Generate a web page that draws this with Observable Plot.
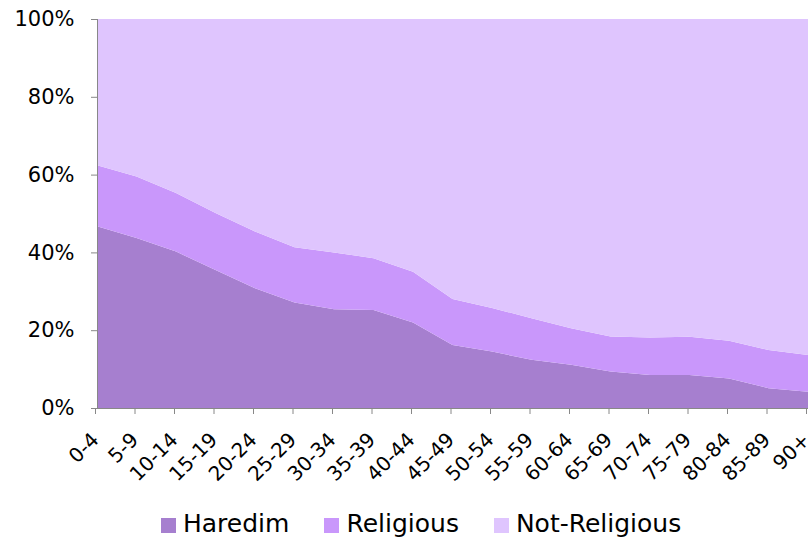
<!DOCTYPE html>
<html>
<head>
<meta charset="utf-8">
<script src="https://cdn.jsdelivr.net/npm/d3@7"></script>
<script src="https://cdn.jsdelivr.net/npm/@observablehq/plot@0.6"></script>
<style>
  html, body { margin: 0; padding: 0; background: #fff; }
  body { width: 811px; height: 541px; position: relative; overflow: hidden; font-family: "DejaVu Sans", Verdana, sans-serif; }
  #chart { position: absolute; left: 0; top: 0; width: 811px; }
  #chart svg { display: block; }
  #legend { position: absolute; left: 161px; top: 509px; display: flex; align-items: center; font-size: 25px; color: #000; white-space: nowrap; }
  #legend .item { display: flex; align-items: center; margin-right: 35px; }
  #legend .sw { width: 15px; height: 15px; margin-right: 7px; margin-top: 4px; }
  #chart [aria-label="y-axis tick"], #chart [aria-label="x-axis tick"] { stroke: #888; }
  #chart [aria-label="y-axis tick label"] { font-size: 21px; fill: #000; }
  #chart [aria-label="x-axis tick label"] { font-size: 20px; fill: #000; }
</style>
</head>
<body>
<div id="chart"></div>
<div id="legend"></div>
<script>
const ages = ["0-4","5-9","10-14","15-19","20-24","25-29","30-34","35-39","40-44","45-49","50-54","55-59","60-64","65-69","70-74","75-79","80-84","85-89","90+"];
const groups = ["Haredim", "Religious", "Not-Religious"];
const colors = ["#a67fcf", "#c997fb", "#dfc5fe"];
const haredim      = [46.7, 43.7, 40.2, 35.5, 30.8, 27.1, 25.4, 25.2, 22.0, 16.2, 14.5, 12.4, 11.1, 9.4, 8.5, 8.5, 7.6, 5.1, 4.2];
const religious    = [15.7, 15.8, 15.1, 14.6, 14.6, 14.2, 14.6, 13.3, 13.0, 11.8, 11.2, 10.7, 9.4, 9.0, 9.6, 9.8, 9.7, 9.8, 9.4];
const notReligious = [37.6, 40.5, 44.7, 49.9, 54.6, 58.7, 60.0, 61.5, 65.0, 72.0, 74.3, 76.9, 79.5, 81.6, 81.9, 81.7, 82.7, 85.1, 86.4];
const yTicks = [0, 20, 40, 60, 80, 100];

const series = {"Haredim": haredim, "Religious": religious, "Not-Religious": notReligious};
const rows = ages.flatMap((age, i) => groups.map(g => ({age, group: g, value: series[g][i]})));

const chart = Plot.plot({
  width: 811,
  height: 480,
  marginLeft: 97,
  marginRight: 3,
  marginTop: 19,
  marginBottom: 72,
  inset: 0,
  style: {fontFamily: "DejaVu Sans, Verdana, sans-serif", fontSize: "20px", color: "#000", background: "#fff", overflow: "visible"},
  x: {type: "point", domain: ages, padding: 0, round: false},
  y: {domain: [0, 100]},
  color: {domain: groups, range: colors},
  marks: [
    Plot.areaY(rows, {x: "age", y: "value", fill: "group", order: groups}),
    Plot.ruleX([ages[0]], {y1: 0, y2: 100, stroke: "#888"}),
    Plot.ruleY([0], {stroke: "#888"}),
    Plot.axisY({ticks: yTicks, tickFormat: d => d + "%", tickSize: 6, tickPadding: 17, label: null}),
    Plot.axisX({tickSize: 6, tickRotate: -45, tickPadding: 22, dx: -2, label: null})
  ]
});
document.getElementById("chart").appendChild(chart);

const legend = document.getElementById("legend");
groups.forEach((g, i) => {
  const item = document.createElement("div");
  item.className = "item";
  const sw = document.createElement("div");
  sw.className = "sw";
  sw.style.background = colors[i];
  const t = document.createElement("span");
  t.textContent = g;
  item.appendChild(sw);
  item.appendChild(t);
  legend.appendChild(item);
});
</script>
</body>
</html>
